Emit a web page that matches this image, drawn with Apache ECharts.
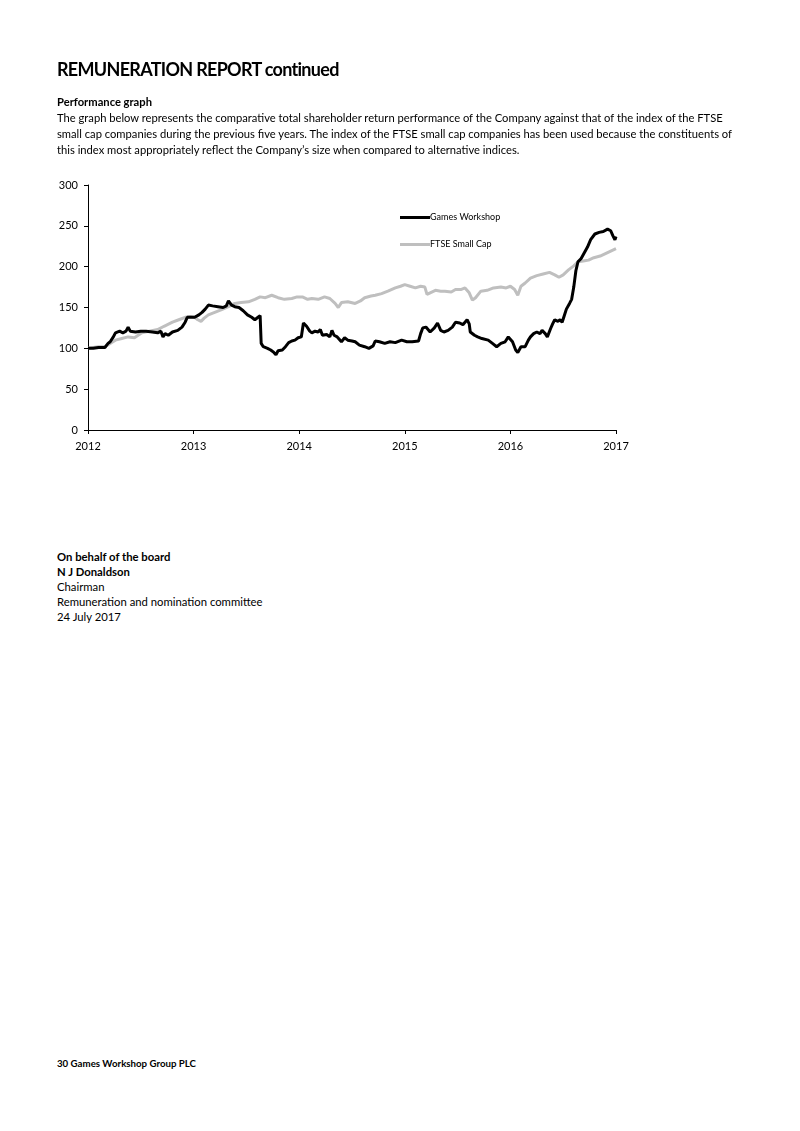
<!DOCTYPE html>
<html>
<head>
<meta charset="utf-8">
<script src="https://cdn.jsdelivr.net/npm/echarts@6/dist/echarts.min.js"></script>
<style>
  body { margin: 0; width: 800px; height: 1131px; background: #fff; position: relative; font-family: Lato, "Liberation Sans", sans-serif; color: #000; }
  .t { position: absolute; left: 57px; white-space: nowrap; }
  #title { top: 58px; font-size: 18px; font-weight: bold; letter-spacing: -0.7px; }
  #para { top: 94px; font-size: 11.2px; line-height: 16px; }
  #sign { top: 549px; font-size: 11.3px; line-height: 15px; }
  #foot { top: 1057px; font-size: 9.7px; font-weight: bold; }
  #main { position: absolute; left: 0; top: 0; width: 800px; height: 480px; }
</style>
</head>
<body>
<div id="main"></div>
<div class="t" id="title">REMUNERATION REPORT continued</div>
<div class="t" id="para"><b>Performance graph</b><br>
The graph below represents the comparative total shareholder return performance of the Company against that of the index of the FTSE<br>
small cap companies during the previous five years. The index of the FTSE small cap companies has been used because the constituents of<br>
this index most appropriately reflect the Company’s size when compared to alternative indices.</div>
<div class="t" id="sign"><b>On behalf of the board</b><br>
<b>N J Donaldson</b><br>
Chairman<br>
Remuneration and nomination committee<br>
24 July 2017</div>
<div class="t" id="foot">30 Games Workshop Group PLC</div>
<script>
// Games Workshop TSR index (2012 = 100)
const gwYears = [2012.00, 2012.05, 2012.10, 2012.16, 2012.19, 2012.21, 2012.24, 2012.26, 2012.30, 2012.33,
  2012.36, 2012.38, 2012.40, 2012.45, 2012.50, 2012.55, 2012.61, 2012.66, 2012.69, 2012.71,
  2012.73, 2012.76, 2012.80, 2012.85, 2012.89, 2012.92, 2012.94, 2012.98, 2013.01, 2013.05,
  2013.08, 2013.11, 2013.14, 2013.18, 2013.23, 2013.28, 2013.31, 2013.33, 2013.36, 2013.39,
  2013.43, 2013.47, 2013.51, 2013.55, 2013.58, 2013.61, 2013.63, 2013.64, 2013.66, 2013.70,
  2013.73, 2013.76, 2013.78, 2013.80, 2013.84, 2013.87, 2013.90, 2013.93, 2013.96, 2013.99,
  2014.02, 2014.04, 2014.07, 2014.10, 2014.12, 2014.15, 2014.18, 2014.20, 2014.22, 2014.26,
  2014.29, 2014.31, 2014.33, 2014.36, 2014.40, 2014.43, 2014.46, 2014.50, 2014.53, 2014.57,
  2014.62, 2014.66, 2014.70, 2014.72, 2014.76, 2014.81, 2014.86, 2014.91, 2014.97, 2015.02,
  2015.07, 2015.13, 2015.15, 2015.17, 2015.20, 2015.24, 2015.28, 2015.31, 2015.34, 2015.37,
  2015.41, 2015.45, 2015.48, 2015.52, 2015.55, 2015.59, 2015.61, 2015.62, 2015.66, 2015.69,
  2015.73, 2015.79, 2015.83, 2015.87, 2015.91, 2015.95, 2015.98, 2016.02, 2016.05, 2016.07,
  2016.10, 2016.14, 2016.17, 2016.19, 2016.22, 2016.25, 2016.28, 2016.30, 2016.33, 2016.35,
  2016.38, 2016.40, 2016.42, 2016.45, 2016.47, 2016.49, 2016.51, 2016.53, 2016.56, 2016.58,
  2016.60, 2016.62, 2016.64, 2016.67, 2016.70, 2016.73, 2016.76, 2016.80, 2016.84, 2016.88,
  2016.92, 2016.95, 2016.97, 2016.99, 2017.00];
const gwValues = [100, 100, 101, 101, 106, 108, 114, 119, 121, 119,
  121, 126, 121, 120, 121, 121, 120, 119, 121, 114,
  118, 116, 120, 122, 126, 132, 138, 138, 138, 141,
  144, 148, 153, 152, 151, 150, 152, 158, 153, 151,
  150, 146, 141, 138, 135, 138, 140, 106, 102, 100,
  98, 95, 92, 97, 98, 102, 107, 109, 110, 113,
  114, 131, 127, 121, 119, 121, 120, 123, 116, 117,
  114, 122, 116, 114, 108, 113, 110, 109, 108, 104,
  102, 100, 103, 109, 108, 106, 108, 107, 110, 108,
  108, 109, 118, 125, 126, 120, 125, 131, 122, 120,
  122, 126, 132, 131, 129, 135, 130, 120, 116, 114,
  112, 110, 106, 102, 106, 108, 114, 108, 98, 95,
  102, 102, 110, 114, 118, 120, 118, 122, 118, 114,
  124, 130, 135, 133, 135, 132, 140, 148, 155, 160,
  175, 195, 206, 210, 217, 224, 233, 240, 242, 243,
  246, 244, 238, 233, 237];

// FTSE Small Cap TSR index (2012 = 100)
const ftseYears = [2012.00, 2012.05, 2012.10, 2012.16, 2012.21, 2012.26, 2012.32, 2012.38, 2012.44, 2012.51,
  2012.58, 2012.66, 2012.72, 2012.80, 2012.86, 2012.92, 2012.97, 2013.01, 2013.04, 2013.07,
  2013.10, 2013.14, 2013.20, 2013.26, 2013.33, 2013.39, 2013.45, 2013.52, 2013.58, 2013.63,
  2013.68, 2013.74, 2013.80, 2013.86, 2013.93, 2013.98, 2014.03, 2014.08, 2014.12, 2014.18,
  2014.24, 2014.29, 2014.34, 2014.37, 2014.40, 2014.46, 2014.53, 2014.58, 2014.62, 2014.68,
  2014.72, 2014.78, 2014.84, 2014.91, 2014.96, 2015.00, 2015.05, 2015.10, 2015.15, 2015.19,
  2015.21, 2015.24, 2015.29, 2015.34, 2015.38, 2015.44, 2015.48, 2015.53, 2015.57, 2015.61,
  2015.64, 2015.67, 2015.72, 2015.78, 2015.84, 2015.91, 2015.96, 2016.00, 2016.04, 2016.07,
  2016.10, 2016.14, 2016.19, 2016.25, 2016.31, 2016.37, 2016.42, 2016.46, 2016.50, 2016.55,
  2016.60, 2016.64, 2016.69, 2016.74, 2016.79, 2016.85, 2016.90, 2016.95, 2017.00];
const ftseValues = [100, 101, 102, 102, 106, 110, 112, 114, 113, 119,
  121, 123, 127, 132, 135, 138, 139, 138, 135, 133,
  137, 141, 144, 147, 151, 155, 156, 157, 160, 163,
  162, 165, 162, 160, 161, 163, 163, 160, 161, 160,
  163, 161, 155, 150, 156, 157, 155, 158, 162, 164,
  165, 167, 170, 174, 176, 178, 176, 174, 176, 175,
  166, 168, 171, 170, 170, 169, 172, 172, 174, 168,
  159, 162, 170, 171, 174, 175, 174, 176, 172, 165,
  176, 180, 186, 189, 191, 193, 190, 187, 190, 196,
  201, 206, 207, 208, 211, 213, 216, 219, 222];

const yearTicks = [2012, 2013, 2014, 2015, 2016, 2017];

const pair = (xs, ys) => xs.map((x, i) => [x, ys[i]]);

const chart = echarts.init(document.getElementById('main'));

const axisFont = { color: '#000', fontSize: 11, fontFamily: 'Lato, "Liberation Sans", sans-serif' };

chart.setOption({
  animation: false,
  grid: { left: 88, right: 184, top: 185, bottom: 50 },
  legend: {
    orient: 'vertical',
    left: 395,
    top: 208,
    itemGap: 18,
    itemWidth: 30,
    itemHeight: 3,
    icon: 'rect',
    textStyle: { fontSize: 9, color: '#000', padding: [0, 0, 0, -5], fontFamily: 'Lato, "Liberation Sans", sans-serif' },
    data: ['Games Workshop', 'FTSE Small Cap']
  },
  xAxis: {
    type: 'value',
    min: yearTicks[0],
    max: yearTicks[yearTicks.length - 1],
    interval: 1,
    splitLine: { show: false },
    axisLine: { lineStyle: { color: '#000', width: 1 } },
    axisTick: { show: true, length: 4, lineStyle: { color: '#000' } },
    axisLabel: { ...axisFont, margin: 11, formatter: v => String(v) }
  },
  yAxis: {
    type: 'value',
    min: 0,
    max: 300,
    interval: 50,
    splitLine: { show: false },
    axisLine: { show: true, lineStyle: { color: '#000', width: 1 } },
    axisTick: { show: true, length: 4, lineStyle: { color: '#000' } },
    axisLabel: { ...axisFont, margin: 10 }
  },
  series: [
    {
      name: 'FTSE Small Cap',
      type: 'line',
      data: pair(ftseYears, ftseValues),
      showSymbol: false,
      color: '#bfbfbf',
      lineStyle: { color: '#bfbfbf', width: 3 },
      z: 2
    },
    {
      name: 'Games Workshop',
      type: 'line',
      data: pair(gwYears, gwValues),
      showSymbol: false,
      color: '#000',
      lineStyle: { color: '#000', width: 3 },
      z: 3
    }
  ]
});
</script>
</body>
</html>
